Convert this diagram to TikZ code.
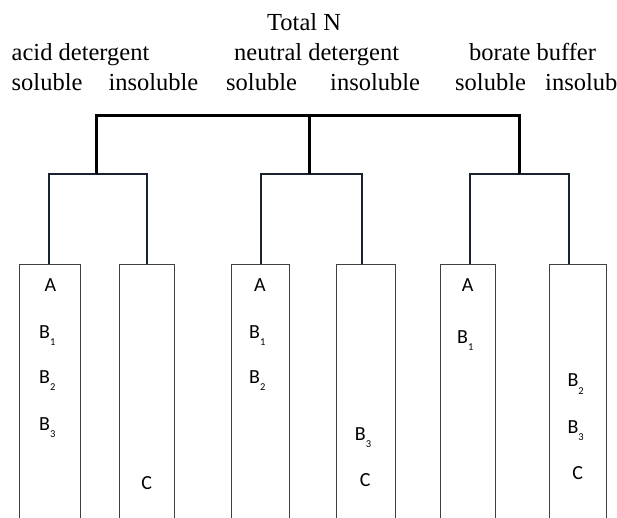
\documentclass[tikz,border=0pt]{standalone}
\usepackage{fontspec}
\setmainfont{Liberation Serif}
\newfontfamily\entryfont{Carlito}
% subscript index set well below the letter's baseline
\newcommand{\lowidx}[1]{\raisebox{-7.5pt}{\fontsize{10.5}{11}\selectfont #1}}
\begin{document}
\begin{tikzpicture}[x=1pt,y=-1pt,
  heading/.style={anchor=base west, inner sep=0pt, font=\fontsize{24.5}{29}\selectfont},
  column/.style={draw=black!75, line width=1pt, anchor=north west, inner sep=0pt,
    minimum height=258pt},
  entry/.style={anchor=base west, inner sep=0pt, font=\entryfont\fontsize{20}{21}\selectfont},
  trunk/.style={line width=3pt, black},
  branch/.style={line width=2.2pt, draw={rgb,255:red,24;green,34;blue,48}}]
\useasboundingbox (0,0) rectangle (617,517);

% headings
\node[heading] (total)   at (267,30.7) {Total N};
\node[heading] (acid)    at (11.5,60.5) {acid detergent};
\node[heading] (neutral) at (234,60.5) {neutral detergent};
\node[heading] (borate)  at (469,60.5) {borate buffer};
\node[heading] (s1) at (11.5,90) {soluble};
\node[heading] (i1) at (108.3,90) {insoluble};
\node[heading] (s2) at (226,90) {soluble};
\node[heading] (i2) at (330,90) {insoluble};
\node[heading] (s3) at (455,90) {soluble};
\node[heading] (i3) at (545,90) {insolub};

% fraction columns (open at the bottom edge)
\node[column, minimum width=61pt] (b1) at (19.3,264) {};
\node[column, minimum width=55pt] (b2) at (119,264) {};
\node[column, minimum width=58pt] (b3) at (230.7,264) {};
\node[column, minimum width=59pt] (b4) at (336,264) {};
\node[column, minimum width=55pt] (b5) at (440.3,264) {};
\node[column, minimum width=57pt] (b6) at (549.3,264) {};

% junctions
\coordinate (top) at (309.3,115);
\coordinate (g1) at (96.7,174.3);
\coordinate (g2) at (309.3,174.3);
\coordinate (g3) at (519.3,174.3);

% tree
\draw[branch] ([xshift=29.7pt]b1.north west) |- (g1) -| ([xshift=27.7pt]b2.north west);
\draw[branch] ([xshift=30pt]b3.north west) |- (g2) -| ([xshift=25.7pt]b4.north west);
\draw[branch] ([xshift=30pt]b5.north west) |- (g3) -| ([xshift=19.4pt]b6.north west);
\draw[trunk] (g1) |- (top) -| (g3);
\draw[trunk] (top) -- (g2);

% contents of the columns
\node[entry, anchor=base] (a1) at (50.5,291.7) {A};
\node[entry] (b11) at (39,338.3) {B\lowidx{1}};
\node[entry] (b12) at (39,383) {B\lowidx{2}};
\node[entry] (b13) at (39,430) {B\lowidx{3}};
\node[entry, anchor=base] (c2) at (146.7,489) {C};

\node[entry, anchor=base] (a3) at (260,291.7) {A};
\node[entry] (b31) at (249,338.3) {B\lowidx{1}};
\node[entry] (b32) at (249,383) {B\lowidx{2}};

\node[entry] (b43) at (354.7,440) {B\lowidx{3}};
\node[entry, anchor=base] (c4) at (365.3,486) {C};

\node[entry, anchor=base] (a5) at (467.7,291.7) {A};
\node[entry] (b51) at (457,343.3) {B\lowidx{1}};

\node[entry] (b62) at (567.4,386.7) {B\lowidx{2}};
\node[entry] (b63) at (567.4,433.3) {B\lowidx{3}};
\node[entry, anchor=base] (c6) at (577.7,479.3) {C};
\end{tikzpicture}
\end{document}
